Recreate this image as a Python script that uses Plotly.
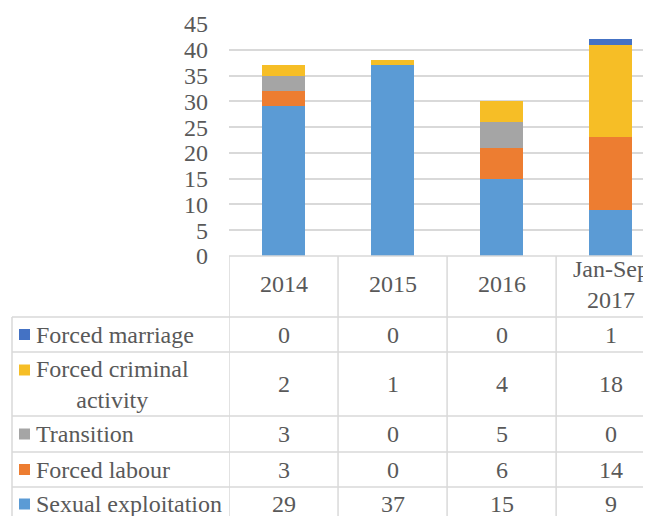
import plotly.graph_objects as go

categories = ["2014", "2015", "2016", "Jan-Sep<br>2017"]
series_names = ["Sexual exploitation", "Forced labour", "Transition",
                "Forced criminal activity", "Forced marriage"]
sexual_exploitation = [29, 37, 15, 9]
forced_labour = [3, 0, 6, 14]
transition = [3, 0, 5, 0]
forced_criminal = [2, 1, 4, 18]
forced_marriage = [0, 0, 0, 1]
y_ticks = [0, 5, 10, 15, 20, 25, 30, 35, 40, 45]

colors = ["#5B9BD5", "#ED7D31", "#A5A5A5", "#F6BE26", "#4472C4"]
series = [sexual_exploitation, forced_labour, transition, forced_criminal, forced_marriage]

OFF = 8  # page body margin
W, H = 651 - OFF, 516 - OFF
FONT = "Liberation Serif"
TXT = "#595959"
GRID = "#D9D9D9"
FS = 24

def px(x):
    return (x - OFF) / W

def py(y):
    return 1 - (y - OFF) / H

xpos = list(range(len(categories)))

fig = go.Figure()
for name, vals, c in zip(series_names, series, colors):
    fig.add_trace(go.Bar(x=xpos, y=vals, name=name, marker=dict(color=c, line=dict(width=0)),
                         width=0.39, showlegend=False))

shapes = []
annotations = []

row_bounds = [317, 352, 416, 452, 487]
for yb in row_bounds:
    shapes.append(dict(type="line", xref="paper", yref="paper", x0=px(12), x1=1,
                       y0=py(yb), y1=py(yb), line=dict(color=GRID, width=1.5)))
shapes.append(dict(type="line", xref="paper", yref="paper", x0=px(229), x1=1,
                   y0=py(256), y1=py(256), line=dict(color=GRID, width=1.5)))
shapes.append(dict(type="line", xref="paper", yref="paper", x0=px(12), x1=px(12),
                   y0=py(317), y1=0, line=dict(color=GRID, width=1.5)))
for i in range(len(categories)):
    shapes.append(dict(type="line", xref="x", yref="paper", x0=i - 0.5, x1=i - 0.5,
                       y0=py(256), y1=0, line=dict(color=GRID, width=1.5)))

for i, cat in enumerate(categories):
    annotations.append(dict(x=i, y=py(284), xref="x", yref="paper", text=cat,
                            showarrow=False, font=dict(family=FONT, size=FS, color=TXT),
                            xanchor="center", yanchor="middle"))

row_centers = {"Forced marriage": 334.5, "Forced criminal activity": 384,
               "Transition": 434, "Forced labour": 469.5, "Sexual exploitation": 504}
row_labels = {"Forced criminal activity": "Forced criminal<br>activity"}
key_y = {"Forced criminal activity": 370}
for name, vals, c in zip(series_names, series, colors):
    yc = row_centers[name]
    ky = key_y.get(name, yc)
    shapes.append(dict(type="rect", xref="paper", yref="paper", x0=px(19), x1=px(30),
                       y0=py(ky + 5.5), y1=py(ky - 5.5), fillcolor=c, line=dict(width=0)))
    annotations.append(dict(x=px(34), y=py(yc), xref="paper", yref="paper",
                            text=row_labels.get(name, name), showarrow=False, align="center",
                            font=dict(family=FONT, size=FS, color=TXT),
                            xanchor="left", yanchor="middle"))
    for i, v in enumerate(vals):
        annotations.append(dict(x=i, y=py(yc), xref="x", yref="paper", text=str(v),
                                showarrow=False, font=dict(family=FONT, size=FS, color=TXT),
                                xanchor="center", yanchor="middle"))

fig.update_layout(
    width=W, height=H,
    margin=dict(l=0, r=0, t=0, b=0, pad=0),
    paper_bgcolor="white", plot_bgcolor="white",
    barmode="stack",
    xaxis=dict(domain=[px(229), 1], range=[-0.5, 3.37], showticklabels=False,
               showgrid=False, zeroline=False, showline=False, fixedrange=True,
               automargin=False),
    yaxis=dict(domain=[py(256), py(24)], range=[0, 45], tickvals=y_ticks,
               showgrid=True, gridcolor=GRID, gridwidth=1.5, zeroline=False, showline=False,
               tickfont=dict(family=FONT, size=FS, color=TXT), ticklabelstandoff=20,
               fixedrange=True, automargin=False),
    shapes=shapes,
    annotations=annotations,
)

fig.write_html("out.html")
